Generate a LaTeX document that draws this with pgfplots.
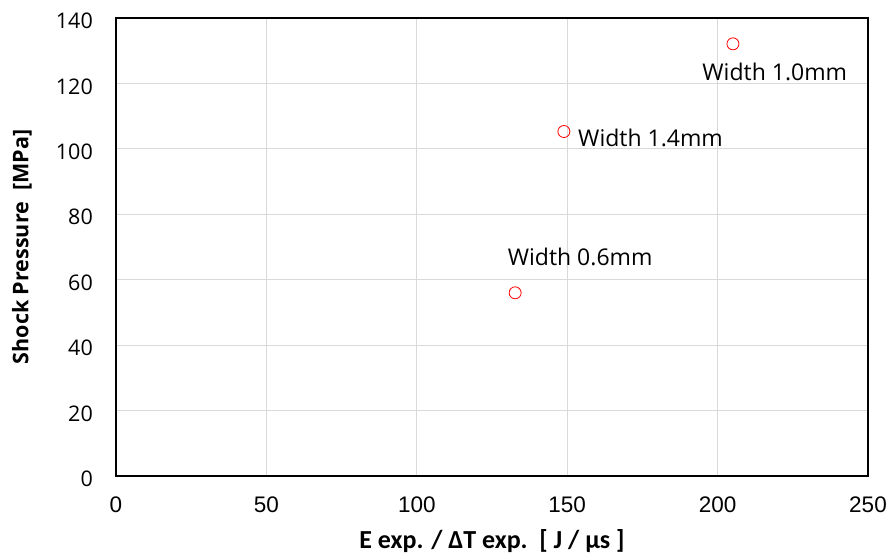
\documentclass[border=0pt]{standalone}
\usepackage{fontspec}
\setmainfont{Open Sans}
\newfontfamily\arialf{Liberation Sans}
\newfontfamily\calib{Carlito}
\usepackage{pgfplots}
\pgfplotsset{compat=1.18}
\begin{document}
\begin{tikzpicture}
\begin{axis}[
  scale only axis,
  width=752pt, height=458pt,
  xmin=0, xmax=250, ymin=0, ymax=140,
  xtick={0,50,...,250}, ytick={0,20,...,140},
  /pgf/number format/assume math mode=true,
  major tick length=0pt,
  grid=major,
  major grid style={draw=black!15, line width=0.8pt},
  axis line style={black, line width=1.6pt},
  xticklabel style={font=\arialf\fontsize{22.5}{24}\selectfont, inner sep=0pt, anchor=north, yshift=-21pt},
  yticklabel style={font=\fontsize{21.5}{24}\selectfont, inner sep=0pt, anchor=east, xshift=-23pt, yshift=-3pt},
  xlabel={\calib\bfseries\fontsize{26}{28}\selectfont E exp. / ΔT exp.\ \ [ J / µs ]},
  ylabel={\bfseries\fontsize{21.5}{24}\selectfont Shock Pressure\ \ [MPa]},
  every axis x label/.style={at={(axis description cs:0.5,-0.142)}, anchor=center},
  every axis y label/.style={at={(axis description cs:-0.125,0.5)}, anchor=center, rotate=90},
  clip=false,
]
\addplot[only marks, mark=o, mark size=6pt, mark options={red, line width=0.8pt}] coordinates {
  (132.7,56.0) (148.9,105.3) (205.1,132.1)
};
\node[font=\fontsize{23}{25}\selectfont, anchor=center] at (axis cs:154.3,67) {Width 0.6mm};
\node[font=\fontsize{23}{25}\selectfont, anchor=west, inner sep=0pt] at (axis cs:153.6,103.3) {Width 1.4mm};
\node[font=\fontsize{23}{25}\selectfont, anchor=center] at (axis cs:219,123.5) {Width 1.0mm};
\end{axis}
\pgfresetboundingbox
\useasboundingbox ([shift={(-116pt,-81pt)}]current axis.south west) rectangle ([shift={(24pt,18pt)}]current axis.north east);
\end{tikzpicture}
\end{document}
